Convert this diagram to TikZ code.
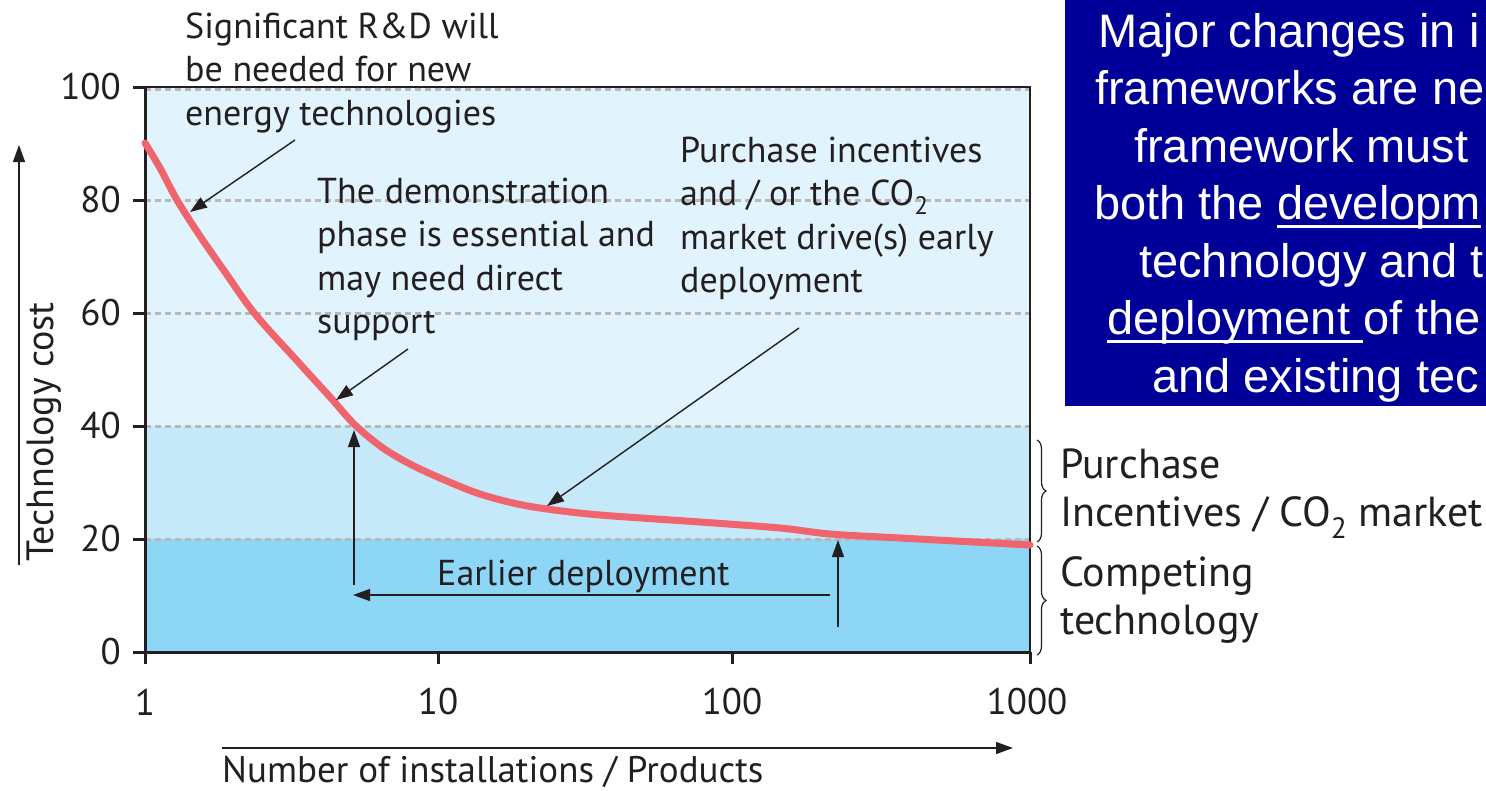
\documentclass[tikz,border=0pt]{standalone}
\usepackage{fontspec}
\setmainfont{PT Sans}
\newfontfamily\boxfont{Liberation Sans}
\usetikzlibrary{arrows.meta,decorations.pathreplacing}
\definecolor{ink}{HTML}{231F20}
\definecolor{bandhigh}{HTML}{E1F3FC}
\definecolor{bandmid}{HTML}{C6E9F9}
\definecolor{bandlow}{HTML}{8DD6F6}
\definecolor{gridgray}{HTML}{B8B8B8}
\definecolor{curvered}{HTML}{F0646E}
\definecolor{navy}{HTML}{000099}
% underline drawn as a rule below the baseline
\newcommand\ulword[1]{\setbox0\hbox{#1}\rlap{\rule[-0.19em]{\wd0}{0.065em}}\box0}
\begin{document}
\begin{tikzpicture}[x=1pt,y=-1pt,
  note/.style={font=\fontsize{36}{43.5}\selectfont, text=ink, align=left, inner sep=0pt, anchor=base west},
  sidenote/.style={note, font=\fontsize{42}{48}\selectfont},
  ticklbl/.style={font=\fontsize{37}{40}\selectfont, text=ink, inner sep=0pt},
  boxline/.style={font=\boxfont\fontsize{47}{57}\selectfont, text=white, inner sep=0pt, anchor=base west},
  pointer/.style={draw=ink, line width=1.4pt, -{Triangle[length=17pt,width=12pt]}},
  gridline/.style={draw=gridgray, line width=3pt, dash pattern=on 6pt off 4pt},
  axisline/.style={draw=ink, line width=3pt},
  bracestyle/.style={draw=ink, line width=1.2pt, decorate, decoration={brace, amplitude=9pt}}]
\useasboundingbox (0,0) rectangle (1486,790);

% value bands of the cost chart
\fill[bandhigh] (145,87) rectangle (1030,426);
\fill[bandmid] (145,426) rectangle (1030,539);
\fill[bandlow] (145,539) rectangle (1030,652);

% dashed grid at 100, 80, 60, 40, 20
\foreach \gy in {89,200,313,426,539}
  \draw[gridline] (145,\gy) -- (1030,\gy);

% frame and axes
\draw[draw=ink, line width=1.5pt] (145,87) -- (1030,87) -- (1030,652);
\draw[axisline] (145,87) -- (145,652) -- (1030,652);
\foreach \gy in {87,200,313,426,539,652}
  \draw[axisline] (133,\gy) -- (145,\gy);
\foreach \gx in {145,438,732,1030}
  \draw[axisline] (\gx,652) -- (\gx,664);

% tick labels
\node[ticklbl, anchor=east] (y100) at (121,87) {100};
\node[ticklbl, anchor=east] (y80) at (121,200) {80};
\node[ticklbl, anchor=east] (y60) at (121,313) {60};
\node[ticklbl, anchor=east] (y40) at (121,426) {40};
\node[ticklbl, anchor=east] (y20) at (121,539) {20};
\node[ticklbl, anchor=east] (y0) at (121,652) {0};
\node[ticklbl] (x1) at (145,702) {1};
\node[ticklbl] (x10) at (438,702) {10};
\node[ticklbl] (x100) at (732,702) {100};
\node[ticklbl] (x1000) at (1027,702) {1000};

% learning curve
\draw[curvered, line width=7pt, line cap=round] plot[smooth, tension=0.55] coordinates {
  (145,143) (160,168) (177,200) (200,236) (225,272) (255,314) (300,364)
  (330,397) (355,425) (383,448) (410,464) (440,478) (477,493) (513,503)
  (547,509) (600,515) (700,522) (780,528) (830,534) (900,538) (1030,545)};

% axis titles
\coordinate (yaxFoot) at (19,565);
\coordinate (yaxHead) at (19,145);
\draw[pointer] (yaxFoot) -- (yaxHead);
\node[ticklbl, font=\fontsize{38}{40}\selectfont, rotate=90, anchor=base] (ytitle) at (53,432) {Technology cost};
\coordinate (xaxFoot) at (222,748);
\coordinate (xaxHead) at (1013,748);
\draw[pointer] (xaxFoot) -- (xaxHead);
\node[note, font=\fontsize{37}{40}\selectfont] (xtitle) at (222,782) {Number of installations / Products};

% annotations (anchored on the baseline of their last line)
\node[note] (rd) at (185,125) {Significant R\&D will\\be needed for new\\energy technologies};
\node[note] (demo) at (317,333.5) {The demonstration\\phase is essential and\\may need direct\\support};
\node[note] (incent) at (680,292.5) {Purchase incentives\\and / or the CO\textsubscript{2}\\market drive(s) early\\deployment};
\node[note] (early) at (437,585) {Earlier deployment};

\coordinate (rdTail) at (295,140);
\coordinate (rdTip) at (190,212);
\coordinate (demoTail) at (408,349);
\coordinate (demoTip) at (336,400);
\coordinate (incTail) at (799,328);
\coordinate (incTip) at (547,506);
\draw[pointer] (rdTail) -- (rdTip);
\draw[pointer] (demoTail) -- (demoTip);
\draw[pointer] (incTail) -- (incTip);

\coordinate (upA) at (354,585);
\coordinate (upATip) at (354,430);
\coordinate (leftFrom) at (830,595);
\coordinate (leftTip) at (353,595);
\coordinate (upB) at (838,627);
\coordinate (upBTip) at (838,540);
\draw[pointer] (upA) -- (upATip);
\draw[pointer] (leftFrom) -- (leftTip);
\draw[pointer] (upB) -- (upBTip);

% braces and their labels
\draw[bracestyle] (1037,440) -- (1037,542);
\draw[bracestyle] (1037,546) -- (1037,655);
\node[sidenote] (purch) at (1060,526) {Purchase\\Incentives / CO\textsubscript{2} market};
\node[sidenote] (compet) at (1060,634) {Competing\\technology};

% policy message panel, cut at the page edge
\begin{scope}
\clip (0,0) rectangle (1486,790);
\fill[navy] (1065,0) rectangle (1500,406);
\node[boxline] (m1) at (1098,47) {Major changes in i};
\node[boxline] (m2) at (1095,104.5) {frameworks are ne};
\node[boxline] (m3) at (1134,162) {framework must};
\node[boxline] (m4) at (1094,219.5) {both the \ulword{developm}};
\node[boxline] (m5) at (1139,277) {technology and t};
\node[boxline] (m6) at (1107,334.5) {\ulword{deployment\ }of the};
\node[boxline] (m7) at (1152,392) {and existing tec};
\end{scope}
\end{tikzpicture}
\end{document}
